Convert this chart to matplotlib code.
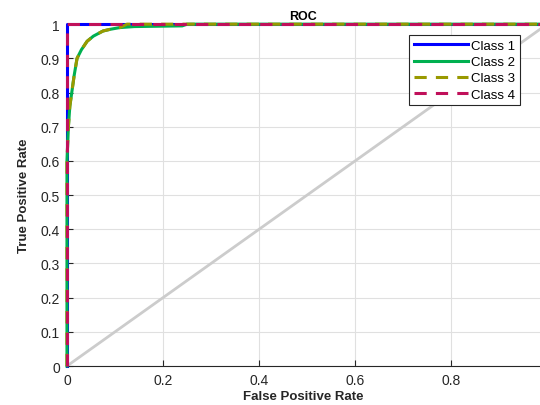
import matplotlib.pyplot as plt
import numpy as np

plt.rcParams['font.family'] = ['Liberation Sans', 'DejaVu Sans']

# ROC points
fpr_1 = [0, 0, 1]
tpr_1 = [0, 1, 1]

fpr_2 = [0, 0, 0.003, 0.006, 0.01, 0.015, 0.021, 0.03, 0.042, 0.055, 0.075, 0.09, 0.11, 0.14, 0.24, 0.25, 1]
tpr_2 = [0, 0.6, 0.7, 0.76, 0.8, 0.85, 0.9, 0.925, 0.95, 0.965, 0.98, 0.985, 0.99, 0.993, 0.995, 1, 1]

fpr_3 = [0, 0, 0.003, 0.006, 0.01, 0.015, 0.021, 0.03, 0.042, 0.055, 0.075, 0.09, 0.11, 0.125, 1]
tpr_3 = [0, 0.6, 0.7, 0.76, 0.8, 0.85, 0.9, 0.925, 0.95, 0.965, 0.98, 0.985, 0.99, 1, 1]

fpr_4 = [0, 0, 1]
tpr_4 = [0, 1, 1]

fig = plt.figure(figsize=(5.4, 4.06), dpi=100)
ax = fig.add_axes([0.124, 0.096, 0.876, 0.842])

ax.plot([0, 1], [0, 1], color='#cccccc', lw=2, zorder=1, clip_on=False)
ax.plot(fpr_1, tpr_1, color='#0000ff', lw=2.2, label='Class 1', zorder=3, clip_on=False)
ax.plot(fpr_2, tpr_2, color='#00b050', lw=2.2, label='Class 2', zorder=4, clip_on=False)
ax.plot(fpr_3, tpr_3, color='#999900', lw=2.2, ls=(0, (4, 3)), label='Class 3', zorder=5, clip_on=False)
ax.plot(fpr_4, tpr_4, color='#c0105a', lw=2.2, ls=(0, (4, 3)), label='Class 4', zorder=6, clip_on=False)

ax.set_xlim(0, 0.985)
ax.set_ylim(0, 1)
ax.set_xticks(np.arange(0, 0.81, 0.2))
ax.set_xticklabels(['0', '0.2', '0.4', '0.6', '0.8'])
ax.set_yticks(np.arange(0, 1.01, 0.1))
ax.set_yticklabels(['0', '0.1', '0.2', '0.3', '0.4', '0.5', '0.6', '0.7', '0.8', '0.9', '1'])
ax.tick_params(direction='in', length=4, labelsize=10, colors='#262626', pad=5)
ax.grid(True, color='#e0e0e0', lw=0.8)
ax.set_axisbelow(True)
for s in ['left', 'bottom', 'top']:
    ax.spines[s].set_color('#262626')
ax.spines['right'].set_visible(False)

ax.set_title('ROC', fontsize=9, fontweight='bold', pad=4)
ax.set_xlabel('False Positive Rate', fontsize=9.5, fontweight='bold', color='#262626', labelpad=2)
ax.set_ylabel('True Positive Rate', fontsize=9.5, fontweight='bold', color='#262626', labelpad=8)

leg = ax.legend(loc='upper right', bbox_to_anchor=(0.958, 0.968), fontsize=9.5, fancybox=False,
                edgecolor='#262626', framealpha=1, handlelength=4.1, borderpad=0.35,
                labelspacing=0.3, handletextpad=0.25, borderaxespad=0)
leg.get_frame().set_linewidth(0.8)
leg.set_zorder(10)

fig.savefig('out.png', dpi=100)
